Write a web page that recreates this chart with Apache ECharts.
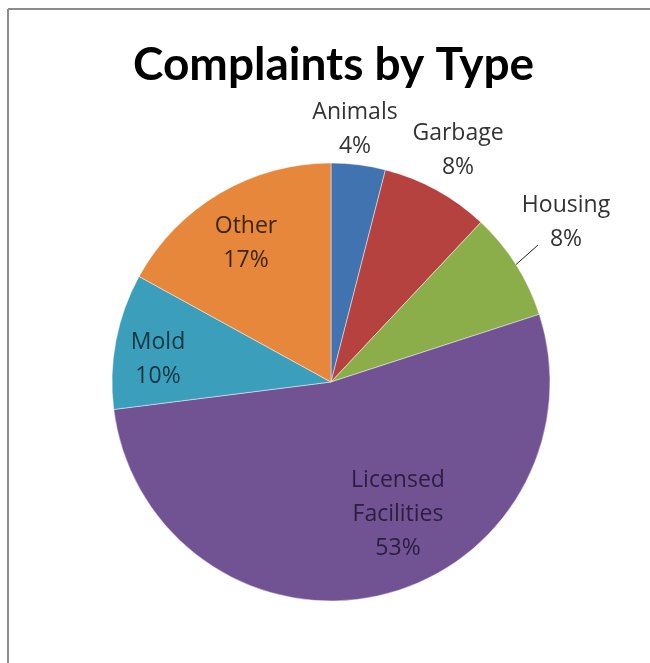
<!DOCTYPE html>
<html>
<head>
<meta charset="utf-8">
<script src="https://cdn.jsdelivr.net/npm/echarts@6/dist/echarts.min.js"></script>
<style>
  html, body { margin: 0; padding: 0; background: #fff; }
  #chart { width: 650px; height: 663px; }
</style>
</head>
<body>
<div id="chart"></div>
<script>
// categories and shares (percent), clockwise from 12 o'clock
const categories = ['Animals', 'Garbage', 'Housing', 'Licensed\nFacilities', 'Mold', 'Other'];
const shares = [4, 8, 8, 53, 10, 17];

// slice colours (Excel 2010 palette, as photographed)
const colors = ['#4073b0', '#b6423f', '#8cae4a', '#715393', '#3b9fbb', '#e6873b'];
const labelColors = ['#333', '#333', '#333', '#2b1d40', '#0f3644', '#3d2510'];

// where each label block sits (centre of the text block)
const labelPos = [[355, 129], [458, 150], [566, 222], [398, 514], [158, 359], [246, 243]];

const chart = echarts.init(document.getElementById('chart'));

const option = {
  backgroundColor: '#fff',
  animation: false,
  title: {
    text: 'Complaints by Type',
    left: 128,
    top: 37,
    textStyle: {
      fontFamily: 'Lato',
      fontSize: 46,
      fontWeight: 'bold',
      color: '#000'
    }
  },
  graphic: [
    { type: 'line', shape: { x1: 8, y1: 9, x2: 650, y2: 9 }, style: { stroke: '#8c8c8c', lineWidth: 2 } },
    { type: 'line', shape: { x1: 8, y1: 9, x2: 8, y2: 663 }, style: { stroke: '#8c8c8c', lineWidth: 2 } }
  ],
  series: [
    {
      type: 'pie',
      center: [331, 382],
      radius: 219,
      startAngle: 90,
      clockwise: true,
      data: categories.map((name, i) => ({
        name: name,
        value: shares[i],
        itemStyle: { color: colors[i] },
        label: { color: labelColors[i] },
        labelLine: { show: i === 2 }
      })),
      itemStyle: {
        borderColor: 'rgba(255,255,255,0.45)',
        borderWidth: 1
      },
      label: {
        show: true,
        position: 'outside',
        formatter: (p) => p.name + '\n' + p.value + '%',
        fontFamily: 'Open Sans',
        fontSize: 23,
        lineHeight: 34,
        align: 'center'
      },
      labelLine: {
        length: 15,
        length2: 0,
        smooth: false,
        lineStyle: { color: '#222', width: 1 }
      },
      labelLayout: (params) => {
        const p = labelPos[params.dataIndex];
        const out = { x: p[0], y: p[1], align: 'center', verticalAlign: 'middle' };
        if (params.dataIndex === 2 && params.labelLinePoints) {
          const start = params.labelLinePoints[0];
          out.labelLinePoints = [start, [p[0] - 28, p[1] + 23]];
        }
        return out;
      }
    }
  ]
};

chart.setOption(option);
window.addEventListener('resize', () => chart.resize());
</script>
</body>
</html>
